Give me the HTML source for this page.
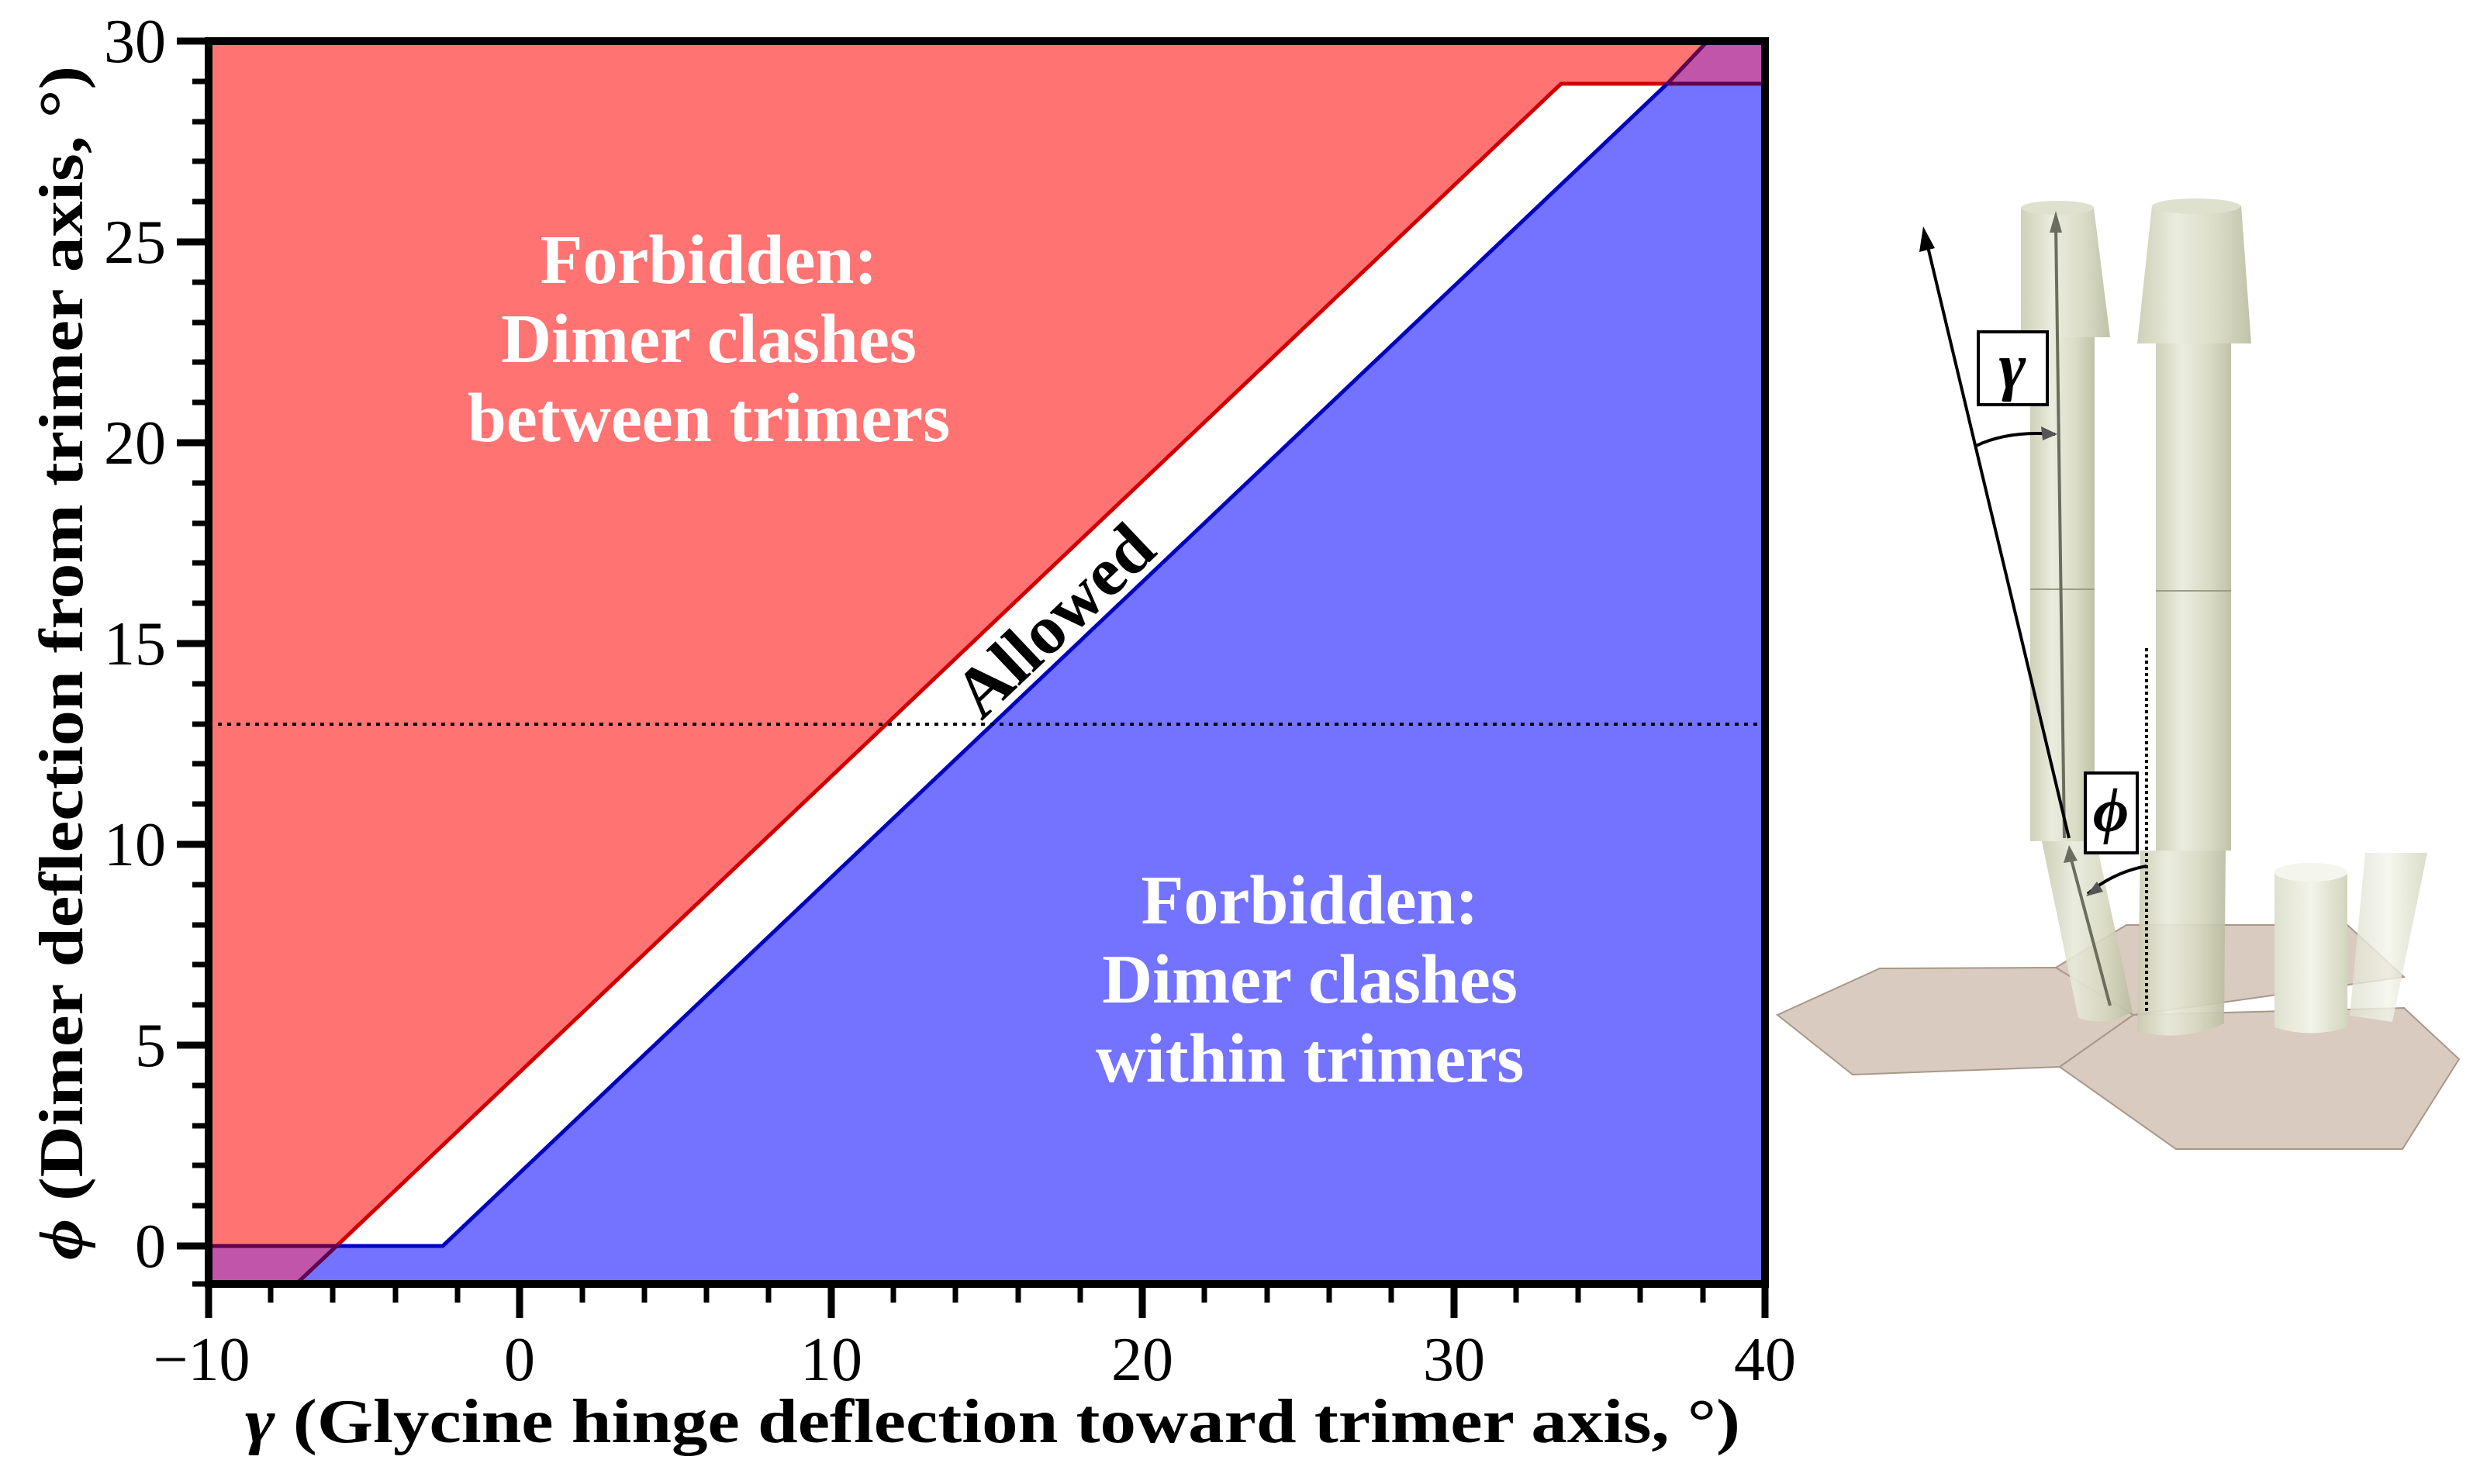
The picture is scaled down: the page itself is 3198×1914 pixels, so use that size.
<!DOCTYPE html>
<html><head><meta charset="utf-8"><style>
html,body{margin:0;padding:0;background:#fff;}
svg{display:block;}
text{font-family:"Liberation Serif","Times New Roman",serif;}
</style></head><body>
<svg width="3198" height="1914" viewBox="0 0 3198 1914" xmlns="http://www.w3.org/2000/svg" font-family="Liberation Serif, serif">
<defs>
<linearGradient id="cyl" x1="0" x2="1" y1="0" y2="0">
<stop offset="0" stop-color="#c9cbb0"/><stop offset="0.35" stop-color="#e8eadb"/><stop offset="0.7" stop-color="#d6d8c0"/><stop offset="1" stop-color="#b9bca0"/>
</linearGradient>
<linearGradient id="cylf" x1="0" x2="1" y1="0" y2="0">
<stop offset="0" stop-color="#dfe1cf"/><stop offset="0.5" stop-color="#f3f4ea"/><stop offset="1" stop-color="#d2d5bd"/>
</linearGradient>
</defs>
<polygon points="269,53 2202,53 2150,108 2013,108 434,1607 269,1607" fill="#ff7373"/>
<polygon points="382,1656 434,1607 571,1607 2150,108 2276,108 2276,1656" fill="#7373ff"/>
<polygon points="434,1607 2013,108 2150,108 571,1607" fill="#fff"/>
<polygon points="269,1607 434,1607 382,1656 269,1656" fill="#c055aa"/>
<polygon points="2150,108 2202,53 2276,53 2276,108" fill="#c055aa"/>
<polyline points="434,1607 2013,108 2150,108" fill="none" stroke="#d00000" stroke-width="5"/>
<polyline points="434,1607 571,1607 2150,108" fill="none" stroke="#0000c0" stroke-width="5"/>
<polyline points="269,1607 434,1607 382,1656" fill="none" stroke="#600050" stroke-width="5"/>
<polyline points="2150,108 2276,108" fill="none" stroke="#600050" stroke-width="5"/>
<polyline points="2150,108 2202,53" fill="none" stroke="#600050" stroke-width="5"/>
<line x1="269" y1="934" x2="2276" y2="934" stroke="#000" stroke-width="4" stroke-dasharray="5,7"/>
<rect x="269" y="53" width="2007" height="1603" fill="none" stroke="#000" stroke-width="10"/>
<g stroke="#000" stroke-width="9">
<line x1="228" y1="53" x2="269" y2="53"/><line x1="228" y1="312" x2="269" y2="312"/><line x1="228" y1="571" x2="269" y2="571"/><line x1="228" y1="830" x2="269" y2="830"/><line x1="228" y1="1089" x2="269" y2="1089"/><line x1="228" y1="1348" x2="269" y2="1348"/><line x1="228" y1="1607" x2="269" y2="1607"/>
<line x1="269" y1="1656" x2="269" y2="1700"/><line x1="670" y1="1656" x2="670" y2="1700"/><line x1="1072" y1="1656" x2="1072" y2="1700"/><line x1="1473" y1="1656" x2="1473" y2="1700"/><line x1="1875" y1="1656" x2="1875" y2="1700"/><line x1="2276" y1="1656" x2="2276" y2="1700"/>
</g>
<g stroke="#000" stroke-width="7">
<line x1="248" y1="105" x2="269" y2="105"/><line x1="248" y1="157" x2="269" y2="157"/><line x1="248" y1="208" x2="269" y2="208"/><line x1="248" y1="260" x2="269" y2="260"/>
<line x1="248" y1="364" x2="269" y2="364"/><line x1="248" y1="416" x2="269" y2="416"/><line x1="248" y1="467" x2="269" y2="467"/><line x1="248" y1="519" x2="269" y2="519"/>
<line x1="248" y1="623" x2="269" y2="623"/><line x1="248" y1="675" x2="269" y2="675"/><line x1="248" y1="726" x2="269" y2="726"/><line x1="248" y1="778" x2="269" y2="778"/>
<line x1="248" y1="882" x2="269" y2="882"/><line x1="248" y1="934" x2="269" y2="934"/><line x1="248" y1="985" x2="269" y2="985"/><line x1="248" y1="1037" x2="269" y2="1037"/>
<line x1="248" y1="1141" x2="269" y2="1141"/><line x1="248" y1="1193" x2="269" y2="1193"/><line x1="248" y1="1244" x2="269" y2="1244"/><line x1="248" y1="1296" x2="269" y2="1296"/>
<line x1="248" y1="1400" x2="269" y2="1400"/><line x1="248" y1="1452" x2="269" y2="1452"/><line x1="248" y1="1503" x2="269" y2="1503"/><line x1="248" y1="1555" x2="269" y2="1555"/>
<line x1="248" y1="1656" x2="269" y2="1656"/>
<line x1="349" y1="1656" x2="349" y2="1680"/><line x1="429" y1="1656" x2="429" y2="1680"/><line x1="510" y1="1656" x2="510" y2="1680"/><line x1="590" y1="1656" x2="590" y2="1680"/>
<line x1="751" y1="1656" x2="751" y2="1680"/><line x1="831" y1="1656" x2="831" y2="1680"/><line x1="911" y1="1656" x2="911" y2="1680"/><line x1="991" y1="1656" x2="991" y2="1680"/>
<line x1="1152" y1="1656" x2="1152" y2="1680"/><line x1="1232" y1="1656" x2="1232" y2="1680"/><line x1="1313" y1="1656" x2="1313" y2="1680"/><line x1="1393" y1="1656" x2="1393" y2="1680"/>
<line x1="1553" y1="1656" x2="1553" y2="1680"/><line x1="1634" y1="1656" x2="1634" y2="1680"/><line x1="1714" y1="1656" x2="1714" y2="1680"/><line x1="1794" y1="1656" x2="1794" y2="1680"/>
<line x1="1955" y1="1656" x2="1955" y2="1680"/><line x1="2035" y1="1656" x2="2035" y2="1680"/><line x1="2115" y1="1656" x2="2115" y2="1680"/><line x1="2196" y1="1656" x2="2196" y2="1680"/>
</g>
<g font-size="80" text-anchor="end">
<text x="214" y="80">30</text><text x="214" y="339">25</text><text x="214" y="598">20</text><text x="214" y="857">15</text><text x="214" y="1116">10</text><text x="214" y="1375">5</text><text x="214" y="1634">0</text>
</g>
<g font-size="80" text-anchor="middle">
<text x="260" y="1780">−10</text><text x="670" y="1780">0</text><text x="1072" y="1780">10</text><text x="1473" y="1780">20</text><text x="1875" y="1780">30</text><text x="2276" y="1780">40</text>
</g>
<text x="1280" y="1860" font-size="80" font-weight="bold" text-anchor="middle" textLength="1928" lengthAdjust="spacingAndGlyphs"><tspan font-style="italic">γ</tspan> (Glycine hinge deflection toward trimer axis, °)</text>
<text transform="translate(106,855) rotate(-90)" font-size="80" font-weight="bold" text-anchor="middle" textLength="1540" lengthAdjust="spacingAndGlyphs"><tspan font-style="italic">ϕ</tspan> (Dimer deflection from trimer axis, °)</text>
<g font-size="90" font-weight="bold" fill="#fff" text-anchor="middle">
<text x="914" y="365">Forbidden:</text><text x="914" y="467">Dimer clashes</text><text x="914" y="569">between trimers</text>
<text x="1689" y="1191">Forbidden:</text><text x="1689" y="1293">Dimer clashes</text><text x="1689" y="1395">within trimers</text>
</g>
<text transform="translate(1380,822) rotate(-43.5)" font-size="90" font-weight="bold" text-anchor="middle">Allowed</text>
<polygon points="2292,1309 2424,1249 2651,1248 2751,1309 2656,1376 2389,1386" fill="#d9cbbf" stroke="#a89888" stroke-width="2"/>
<polygon points="2651,1248 2742,1193 3027,1193 3100,1260 2751,1309" fill="#d9cbbf" stroke="#a89888" stroke-width="2"/>
<polygon points="2656,1376 2751,1309 3100,1300 3171,1366 3098,1482 2806,1482" fill="#d9cbbf" stroke="#a89888" stroke-width="2"/>
<path d="M2933,1125 L3027,1125 L3027,1325 Q2980,1340 2933,1325 Z" fill="url(#cylf)"/>
<ellipse cx="2980" cy="1125" rx="47" ry="12" fill="#f4f5ec"/>
<path d="M3050,1100 L3130,1100 L3085,1318 L3030,1310 Z" fill="url(#cylf)" opacity="0.8"/>
<path d="M2756,1330 L2760,1097 L2870,1097 L2868,1320 Q2812,1345 2756,1330 Z" fill="url(#cyl)" opacity="0.9"/>
<rect x="2780" y="443" width="97" height="654" fill="url(#cyl)" opacity="0.9"/>
<line x1="2780" y1="762" x2="2877" y2="762" stroke="#9a9d84" stroke-width="2"/>
<path d="M2775,265 L2890,265 L2903,443 L2756,443 Z" fill="url(#cyl)" opacity="0.9"/>
<ellipse cx="2832" cy="266" rx="57" ry="10" fill="#dfe1cf"/>
<path d="M2633,1085 L2703,1085 L2750,1305 Q2715,1325 2680,1313 Z" fill="url(#cyl)" opacity="0.9"/>
<rect x="2618" y="435" width="83" height="650" fill="url(#cyl)" opacity="0.9"/>
<line x1="2618" y1="760" x2="2701" y2="760" stroke="#9a9d84" stroke-width="2"/>
<path d="M2606,268 L2700,268 L2721,435 L2606,435 Z" fill="url(#cyl)" opacity="0.9"/>
<ellipse cx="2653" cy="268" rx="47" ry="9" fill="#dfe1cf"/>
<line x1="2662" y1="1081" x2="2651" y2="290" stroke="#6b6e5c" stroke-width="4"/>
<polygon points="2651,272 2643,300 2659,300" fill="#6b6e5c"/>
<line x1="2668" y1="1081" x2="2484" y2="310" stroke="#000" stroke-width="4"/>
<polygon points="2480,292 2475,325 2495,320" fill="#000"/>
<line x1="2721" y1="1297" x2="2670" y2="1105" stroke="#6b6e5c" stroke-width="4"/>
<polygon points="2668,1090 2661,1113 2679,1110" fill="#6b6e5c"/>
<path d="M2548,575 Q2590,555 2650,560" fill="none" stroke="#000" stroke-width="4"/>
<polygon points="2653,560 2632,550 2634,568" fill="#555"/>
<path d="M2692,1153 Q2725,1125 2768,1117" fill="none" stroke="#000" stroke-width="4"/>
<polygon points="2690,1156 2712,1150 2704,1137" fill="#555"/>
<line x1="2768" y1="836" x2="2768" y2="1305" stroke="#000" stroke-width="4" stroke-dasharray="4,4"/>
<rect x="2551" y="428" width="89" height="94" fill="#fff" stroke="#000" stroke-width="4"/>
<text x="2595" y="500" font-size="84" font-style="italic" font-weight="bold" text-anchor="middle">γ</text>
<rect x="2689" y="997" width="67" height="103" fill="#fff" stroke="#000" stroke-width="4"/>
<text x="2722" y="1072" font-size="80" font-style="italic" font-weight="bold" text-anchor="middle">ϕ</text>
</svg>
</body></html>
